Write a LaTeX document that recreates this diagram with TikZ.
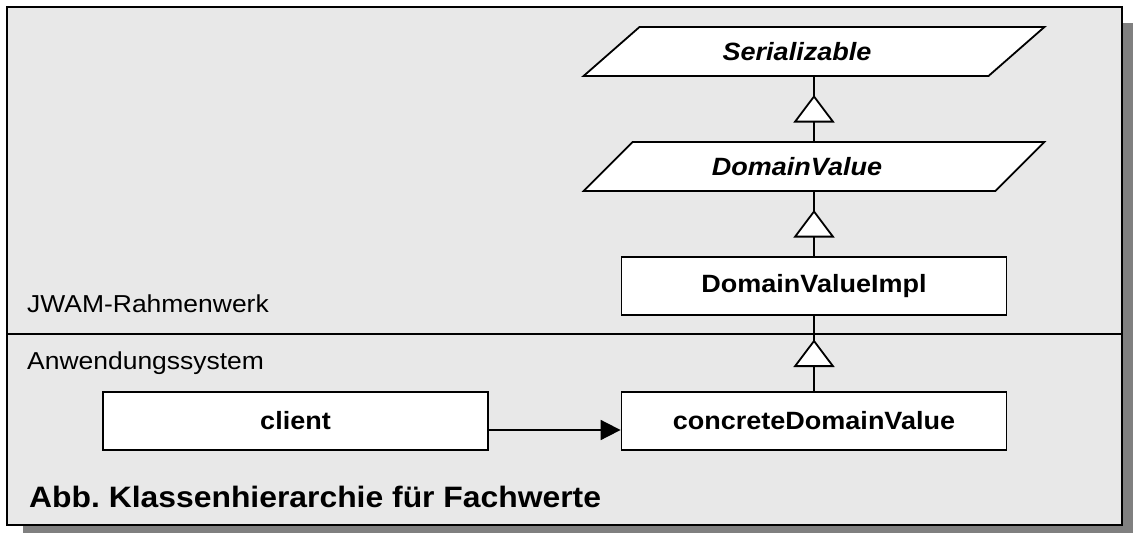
\documentclass[tikz,border=0pt]{standalone}
\usepackage{fontspec}
\setmainfont[FakeStretch=1.08]{Liberation Sans}
\usetikzlibrary{shapes.geometric,arrows.meta,decorations.markings,calc}
\definecolor{panelgray}{RGB}{232,232,232}
\definecolor{shadowgray}{RGB}{128,128,128}
\frenchspacing
\begin{document}
\begin{tikzpicture}[x=1pt,y=-1pt,
  cls/.style={draw=black, fill=white, line width=1.8pt, minimum width=385pt, minimum height=58pt, inner sep=0pt, font=\fontsize{25}{30}\selectfont\bfseries},
  iface/.style={trapezium, trapezium left angle=45, trapezium right angle=135, trapezium stretches=true, draw=black, fill=white, line width=1.8pt, minimum width=461pt, minimum height=49pt, inner sep=0pt, font=\fontsize{25}{30}\selectfont\bfseries\itshape},
  inherit/.style={line width=1.8pt, postaction={decorate}, decoration={markings, mark=at position 0.5 with {\arrow[xshift=14pt]{Triangle[length=27.5pt,width=41pt,fill=white]}}}},
  uses/.style={line width=1.8pt, -{Triangle[length=20pt,width=20pt]}},
  lbl/.style={anchor=base west, inner sep=0pt, font=\fontsize{24.5}{30}\selectfont},
]
\useasboundingbox (0,0) rectangle (1133,533);
\fill[shadowgray] (23,23) rectangle (1140,540);
\draw[line width=1.8pt, fill=panelgray] (7,7) rectangle (1122,525);
\draw[line width=1.8pt] (7,334) -- (1122,334);

\node[lbl] (fw) at (27,312) {JWAM-Rahmenwerk};
\node[lbl] (app) at (27,369) {Anwendungssystem};
\node[lbl, font=\fontsize{29.5}{35}\selectfont\bfseries] (cap) at (29,507) {Abb. Klassenhierarchie für Fachwerte};

\node[iface] (ser) at (814,51.5) {\hspace*{-34pt}Serializable};
\node[iface] (dv) at (814,166.5) {\hspace*{-34pt}DomainValue};
\node[cls] (dvi) at (814,286) {DomainValueImpl};
\node[cls] (cdv) at (814,421) {concreteDomainValue};
\node[cls] (client) at (295.5,421) {client};

\draw[inherit] (dv.center |- dv.north) -- (dv.center |- ser.south);
\draw[inherit] (dvi.north) -- (dvi.north |- dv.south);
\draw[inherit] (cdv.north) -- (cdv.north |- dvi.south);
\draw[uses] ($(client.east)+(0,9)$) -- ($(cdv.west)+(0,9)$);
\end{tikzpicture}
\end{document}
